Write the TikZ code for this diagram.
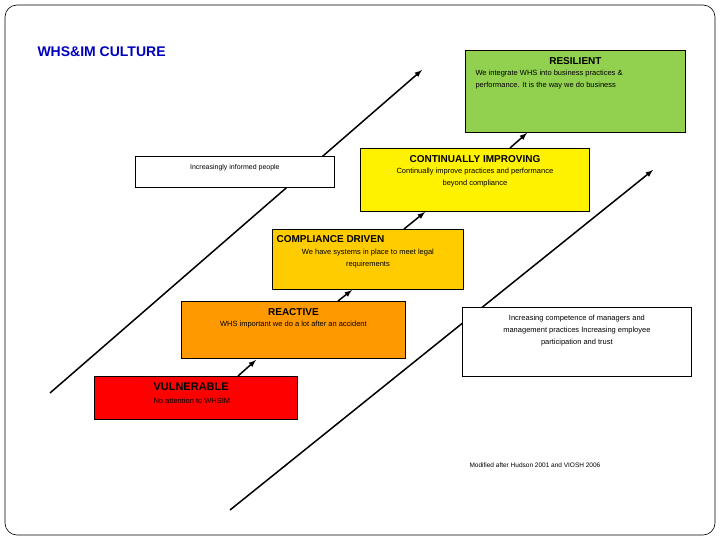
\documentclass[tikz,border=0pt]{standalone}
\usepackage{fontspec}
\setmainfont{Liberation Sans}
\begin{document}
\begin{tikzpicture}[x=1pt,y=-1pt,
  box/.style={draw=black,line width=0.8pt,anchor=north west,inner sep=0pt},
  ttl/.style={font=\bfseries\fontsize{10}{11}\selectfont},
  txt/.style={font=\fontsize{7.5}{12}\selectfont,align=center},
  arr/.style={-latex,line width=1.5pt}]
\useasboundingbox (0,0) rectangle (720,540);
\draw[rounded corners=12pt,line width=0.6pt] (5,5) rectangle (715,535);
\node[anchor=west,text=blue!75!black,font=\bfseries\fontsize{14}{15}\selectfont] (title) at (34,52) {WHS\&IM CULTURE};
% long arrows
\coordinate (la) at (50,393); \coordinate (lb) at (422,70);
\draw[arr] (la) -- (lb);
\coordinate (ra) at (230,510); \coordinate (rb) at (653,170);
\draw[arr] (ra) -- (rb);
% boxes
\node[box,fill=white,minimum width=199pt,minimum height=31pt] (inf) at (135,156) {};
\node[txt,anchor=north,font=\fontsize{7}{8}\selectfont] at ([yshift=-5pt]inf.north) {Increasingly informed people};
\node[box,fill=white,minimum width=229pt,minimum height=69pt] (comp) at (462,307) {};
\node[txt,anchor=north] at ([yshift=-5pt]comp.north) {Increasing competence of managers and\\management practices Increasing employee\\participation and trust};
\node[box,fill={rgb,255:red,146;green,208;blue,80},minimum width=220pt,minimum height=82pt] (res) at (465,50) {};
\node[ttl,anchor=north] at ([yshift=-4pt]res.north) {RESILIENT};
\node[txt,align=left,anchor=north west] at (472,67) {We integrate WHS into business practices \&\\performance. It is the way we do business};
\node[box,fill=yellow,minimum width=229pt,minimum height=63pt] (ci) at (360,148) {};
\node[ttl,anchor=north] at ([yshift=-4pt]ci.north) {CONTINUALLY IMPROVING};
\node[txt,anchor=north] at ([yshift=-17pt]ci.north) {Continually improve practices and performance\\beyond compliance};
\node[box,fill={rgb,255:red,255;green,204;blue,0},minimum width=191pt,minimum height=60pt] (cd) at (272,229) {};
\node[ttl,anchor=north west] at (273,232) {COMPLIANCE DRIVEN};
\node[txt,anchor=north] at ([yshift=-17pt]cd.north) {We have systems in place to meet legal\\requirements};
\node[box,fill={rgb,255:red,255;green,153;blue,0},minimum width=224pt,minimum height=57pt] (rea) at (181,301) {};
\node[ttl,anchor=north] at ([yshift=-4pt]rea.north) {REACTIVE};
\node[txt,anchor=north] at ([yshift=-17pt]rea.north) {WHS important we do a lot after an accident};
\node[box,fill=red,minimum width=203pt,minimum height=43pt] (vul) at (94,376) {};
\node[ttl,anchor=north west,font=\bfseries\fontsize{11}{12}\selectfont] at (150,379) {VULNERABLE};
\node[txt,anchor=north west] at (150,395) {No attention to WHSIM};
% small arrows
\draw[arr] (238,376) -- (256,360);
\draw[arr] (338,301) -- (352,290);
\draw[arr] (404,229) -- (425,212);
\draw[arr] (510,148) -- (527,133);
\node[anchor=north west,font=\fontsize{6.5}{7}\selectfont] (src) at (466,459) {Modified after Hudson 2001 and VIOSH 2006};
\end{tikzpicture}
\end{document}
